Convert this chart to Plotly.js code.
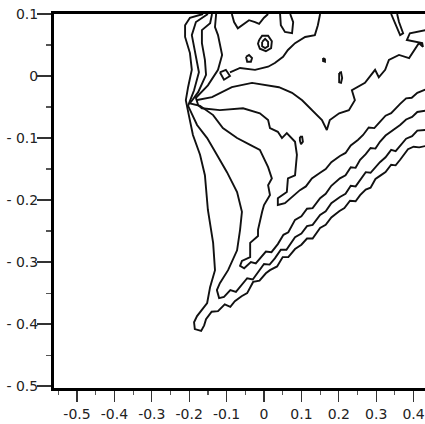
<!DOCTYPE html>
<html>
<head>
<meta charset="utf-8">
<script src="https://cdn.plot.ly/plotly-3.0.1.min.js"></script>
<style>html,body{margin:0;padding:0;background:#fff}#chart{width:425px;height:424px}</style>
</head>
<body>
<div id="chart"></div>
<script>
// Contour lines (data coordinates)
const c1x = [-0.163,-0.198,-0.211,-0.211,-0.198,-0.193,-0.203,-0.209,-0.201,-0.190,-0.171,-0.158,-0.150,-0.136,-0.131,-0.144,-0.152,-0.166,-0.179,-0.187,-0.185,-0.168,-0.160,-0.155,-0.140,-0.123,-0.105,-0.090,-0.078,-0.060,-0.045,-0.029,-0.012,0.005,0.016,0.035,0.050,0.065,0.083,0.100,0.115,0.130,0.150,0.165,0.180,0.201,0.215,0.230,0.245,0.257,0.272,0.285,0.298,0.310,0.325,0.340,0.352,0.364,0.375,0.385,0.400,0.415,0.431];
const c1y = [0.100,0.094,0.082,0.063,0.037,0.010,-0.018,-0.039,-0.063,-0.095,-0.127,-0.160,-0.216,-0.269,-0.313,-0.340,-0.366,-0.377,-0.387,-0.397,-0.408,-0.411,-0.402,-0.392,-0.380,-0.379,-0.368,-0.372,-0.363,-0.355,-0.350,-0.332,-0.330,-0.318,-0.313,-0.307,-0.292,-0.292,-0.279,-0.272,-0.262,-0.262,-0.245,-0.240,-0.228,-0.218,-0.213,-0.201,-0.202,-0.192,-0.183,-0.180,-0.166,-0.161,-0.155,-0.143,-0.144,-0.135,-0.126,-0.118,-0.114,-0.115,-0.113];

const c2x = [-0.150,-0.182,-0.193,-0.182,-0.174,-0.187,-0.203,-0.179,-0.152,-0.126,-0.099,-0.072,-0.059,-0.064,-0.072,-0.096,-0.118,-0.126,-0.120,-0.107,-0.090,-0.075,-0.064,-0.045,-0.030,-0.016,0.000,0.015,0.029,0.045,0.060,0.083,0.100,0.115,0.130,0.150,0.165,0.180,0.203,0.218,0.232,0.245,0.257,0.272,0.285,0.310,0.325,0.340,0.352,0.364,0.380,0.396,0.410,0.431];
const c2y = [0.100,0.087,0.066,0.034,0.006,-0.023,-0.048,-0.079,-0.100,-0.127,-0.155,-0.187,-0.219,-0.248,-0.281,-0.313,-0.334,-0.345,-0.358,-0.356,-0.345,-0.348,-0.340,-0.326,-0.328,-0.316,-0.303,-0.304,-0.294,-0.280,-0.280,-0.260,-0.254,-0.242,-0.240,-0.224,-0.218,-0.205,-0.195,-0.190,-0.177,-0.178,-0.168,-0.155,-0.156,-0.139,-0.131,-0.119,-0.121,-0.113,-0.101,-0.097,-0.088,-0.087];

const c3x = [-0.139,-0.144,-0.166,-0.166,-0.158,-0.155,-0.176,-0.198,-0.171,-0.136,-0.110,-0.072,-0.037,-0.011,0.011,0.021,0.011,0.016,0.000,-0.005,-0.016,-0.016,-0.037,-0.037,-0.059,-0.064,-0.053,-0.035,-0.022,-0.011,0.005,0.020,0.037,0.052,0.065,0.083,0.100,0.115,0.130,0.150,0.165,0.180,0.203,0.218,0.232,0.245,0.257,0.272,0.285,0.298,0.310,0.325,0.340,0.352,0.364,0.380,0.396,0.410,0.431];
const c3y = [0.100,0.085,0.074,0.053,0.026,0.002,-0.026,-0.044,-0.048,-0.063,-0.084,-0.100,-0.111,-0.119,-0.147,-0.165,-0.176,-0.192,-0.208,-0.219,-0.248,-0.258,-0.269,-0.292,-0.298,-0.306,-0.310,-0.300,-0.302,-0.294,-0.283,-0.284,-0.271,-0.256,-0.252,-0.232,-0.226,-0.214,-0.213,-0.197,-0.190,-0.177,-0.165,-0.160,-0.147,-0.148,-0.135,-0.126,-0.116,-0.117,-0.106,-0.096,-0.090,-0.084,-0.079,-0.070,-0.066,-0.058,-0.056];

const c4x = [-0.128,-0.131,-0.123,-0.118,-0.112,-0.123,-0.150,-0.182,-0.176,-0.166,-0.118,-0.056,-0.011,0.011,0.016,0.037,0.048,0.061,0.083,0.088,0.083,0.064,0.061,0.037,0.037,0.056,0.075,0.096,0.112,0.128,0.150,0.165,0.180,0.203,0.218,0.232,0.251,0.265,0.280,0.295,0.310,0.325,0.340,0.352,0.364,0.380,0.395,0.410,0.431];
const c4y = [0.100,0.079,0.066,0.050,0.034,0.010,-0.015,-0.035,-0.047,-0.052,-0.055,-0.052,-0.060,-0.071,-0.084,-0.090,-0.100,-0.092,-0.106,-0.127,-0.160,-0.165,-0.187,-0.197,-0.208,-0.205,-0.195,-0.184,-0.178,-0.165,-0.156,-0.150,-0.139,-0.129,-0.124,-0.112,-0.103,-0.095,-0.083,-0.084,-0.074,-0.064,-0.060,-0.052,-0.045,-0.036,-0.035,-0.027,-0.022];

const c5x = [-0.182,-0.139,-0.086,-0.032,0.040,0.075,0.102,0.128,0.155,0.168,0.176,0.201,0.227,0.243,0.235,0.270,0.297,0.307,0.324,0.334,0.361,0.388,0.396,0.414,0.425,0.423,0.382,0.390,0.431];
const c5y = [-0.039,-0.034,-0.018,-0.011,-0.018,-0.027,-0.039,-0.055,-0.071,-0.087,-0.071,-0.060,-0.055,-0.039,-0.023,-0.011,0.010,-0.002,0.010,0.026,0.034,0.029,0.037,0.053,0.047,0.053,0.058,0.069,0.074];

const c6x = [-0.091,-0.064,-0.024,0.011,0.029,0.051,0.064,0.083,0.110,0.136,0.144,0.150];
const c6y = [0.006,0.013,0.010,0.015,0.021,0.031,0.042,0.053,0.063,0.066,0.082,0.100];

const c7x = [-0.086,-0.080,-0.070,-0.053,-0.040,-0.024,-0.013,0.000,0.011];
const c7y = [0.100,0.087,0.077,0.084,0.090,0.087,0.084,0.094,0.100];

const ringOutX = [-0.013,-0.005,0.011,0.021,0.019,0.005,-0.011,-0.016,-0.013];
const ringOutY = [0.058,0.065,0.065,0.056,0.045,0.040,0.044,0.052,0.058];
const ringInX = [-0.005,0.003,0.011,0.011,0.003,-0.005,-0.005];
const ringInY = [0.055,0.060,0.055,0.048,0.045,0.048,0.055];
const loopAX = [-0.048,-0.040,-0.032,-0.035,-0.045,-0.048];
const loopAY = [0.031,0.034,0.029,0.023,0.023,0.031];
const loopBX = [0.201,0.206,0.209,0.206,0.201,0.201];
const loopBY = [0.005,0.006,-0.003,-0.011,-0.010,0.005];
const dotX = [0.158,0.163,0.163,0.158,0.158];
const dotY = [0.029,0.027,0.023,0.024,0.029];
const loopCX = [0.096,0.102,0.104,0.099,0.096,0.096];
const loopCY = [-0.098,-0.098,-0.106,-0.110,-0.104,-0.098];
const hangX = [0.340,0.353,0.364,0.372,0.361,0.356];
const hangY = [0.100,0.082,0.066,0.069,0.087,0.100];
const hang2X = [0.043,0.045,0.056,0.075,0.078,0.070];
const hang2Y = [0.100,0.082,0.071,0.069,0.087,0.100];
const blobX = [-0.118,-0.102,-0.091,-0.107,-0.118];
const blobY = [0.006,0.010,0.000,-0.006,0.006];

const xTickVals = [-0.5,-0.4,-0.3,-0.2,-0.1,0,0.1,0.2,0.3,0.4];
const xTickText = ['-0.5','-0.4','-0.3','-0.2','-0.1','0','0.1','0.2','0.3','0.4'];
const xMinorVals = [-0.55,-0.45,-0.35,-0.25,-0.15,-0.05,0.05,0.15,0.25,0.35];
const yTickVals = [0.1,0,-0.1,-0.2,-0.3,-0.4,-0.5];
const yTickText = ['0.1','0','- 0.1','- 0.2','- 0.3','- 0.4','- 0.5'];
const yMinorVals = [0.05,-0.05,-0.15,-0.25,-0.35,-0.45];

const lines = [
  [c1x,c1y],[c2x,c2y],[c3x,c3y],[c4x,c4y],[c5x,c5y],[c6x,c6y],[c7x,c7y],
  [ringOutX,ringOutY],[ringInX,ringInY],[loopAX,loopAY],[loopBX,loopBY],
  [dotX,dotY],[loopCX,loopCY],[hangX,hangY],[hang2X,hang2Y],[blobX,blobY]
];

const traces = lines.map(([x,y]) => ({
  type:'scatter', mode:'lines', x:x, y:y,
  line:{color:'#111', width:1.9}, hoverinfo:'skip', showlegend:false
}));

const font = {family:'DejaVu Sans, sans-serif', size:14, color:'#222'};
const layout = {
  width:425, height:424,
  margin:{l:54, r:0, t:14, b:36},
  paper_bgcolor:'#fff', plot_bgcolor:'#fff',
  font:font, showlegend:false,
  xaxis:{range:[-0.5615,0.4305], showgrid:false, zeroline:false,
    showline:true, linewidth:3, linecolor:'#000', mirror:true,
    ticks:'outside', ticklen:11, tickwidth:1.3, tickcolor:'#333',
    tickmode:'array', tickvals:xTickVals, ticktext:xTickText, tickfont:font,
    minor:{ticks:'outside', ticklen:4, tickwidth:1.2, tickcolor:'#555', tickmode:'array', tickvals:xMinorVals}},
  yaxis:{range:[-0.503,0.1], showgrid:false, zeroline:false,
    showline:true, linewidth:3, linecolor:'#000',
    ticks:'outside', ticklen:14, tickwidth:1.3, tickcolor:'#333', ticklabelstandoff:-4,
    tickmode:'array', tickvals:yTickVals, ticktext:yTickText, tickfont:font,
    minor:{ticks:'outside', ticklen:5, tickwidth:1.2, tickcolor:'#555', tickmode:'array', tickvals:yMinorVals}}
};
Plotly.newPlot('chart', traces, layout, {staticPlot:true, displayModeBar:false});
</script>
</body>
</html>
